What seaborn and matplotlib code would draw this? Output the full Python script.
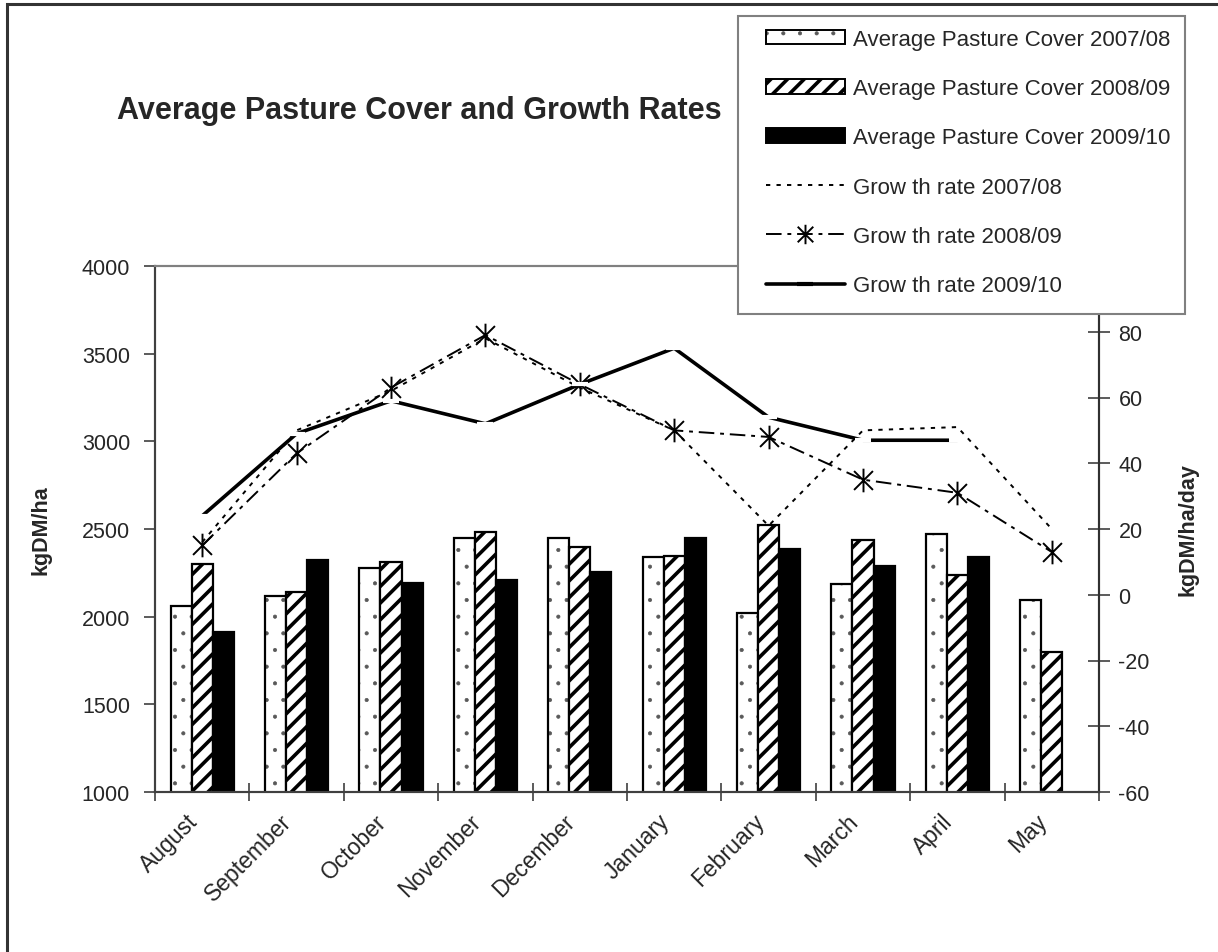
import numpy as np
import pandas as pd
import matplotlib
matplotlib.use("Agg")
import matplotlib.pyplot as plt
from matplotlib.patches import Patch, Rectangle
from matplotlib.lines import Line2D
from matplotlib.path import Path
import seaborn as sns

# ---- data -------------------------------------------------------------
months = ["August", "September", "October", "November", "December",
          "January", "February", "March", "April", "May"]

cover_0708 = [2060, 2120, 2280, 2450, 2450, 2340, 2020, 2185, 2470, 2095]
cover_0809 = [2300, 2140, 2310, 2485, 2395, 2345, 2525, 2440, 2240, 1800]
cover_0910 = [1915, 2325, 2190, 2210, 2255, 2450, 2385, 2290, 2340, np.nan]

growth_0708 = [16, 50, 62, 78, 63, 50, 21, 50, 51, 20]
growth_0809 = [15, 43, 63, 79, 64, 50, 48, 35, 31, 13]
growth_0910 = [24, 49, 59, 52, 64, 75, 54, 47, 47, np.nan]

cover_labels = ["Average Pasture Cover 2007/08",
                "Average Pasture Cover 2008/09",
                "Average Pasture Cover 2009/10"]
growth_labels = ["Grow th rate 2007/08",
                 "Grow th rate 2008/09",
                 "Grow th rate 2009/10"]

left_ticks = [1000, 1500, 2000, 2500, 3000, 3500, 4000]
right_ticks = [-60, -40, -20, 0, 20, 40, 60, 80]

# ---- style ------------------------------------------------------------
sns.set_style("ticks")
plt.rcParams["font.family"] = ["Liberation Sans", "DejaVu Sans"]
plt.rcParams["axes.unicode_minus"] = False
plt.rcParams["hatch.linewidth"] = 2.6

W, H = 1218, 953
fig = plt.figure(figsize=(W / 100, H / 100), dpi=100)
ax = fig.add_axes([155 / W, 1 - 793 / H, (1099 - 155) / W, (793 - 267) / H])

DOT_GRAY = (0.35, 0.35, 0.35, 1.0)


def fine_dots(patch):
    """Small grey dots for the stippled pattern."""
    patch._hatch_color = DOT_GRAY
    if hasattr(patch, "_hatch_linewidth"):
        patch._hatch_linewidth = 0.5
    orig_draw = patch.draw

    def draw(renderer, _orig=orig_draw):
        with plt.rc_context({"hatch.linewidth": 0.5}):
            _orig(renderer)
    patch.draw = draw


# bars
cover_df = pd.DataFrame({
    "month": months * 3,
    "series": sum([[lab] * len(months) for lab in cover_labels], []),
    "value": cover_0708 + cover_0809 + cover_0910,
}).dropna()

bar_faces = {cover_labels[0]: "white", cover_labels[1]: "white", cover_labels[2]: "black"}
bar_hatches = {cover_labels[0]: ".", cover_labels[1]: "//", cover_labels[2]: None}

sns.barplot(data=cover_df, x="month", y="value", hue="series",
            order=months, hue_order=cover_labels, palette=bar_faces,
            width=0.67, gap=0, errorbar=None, saturation=1,
            edgecolor="black", linewidth=1.6, legend=False, ax=ax)

for label, cont in zip(cover_labels, ax.containers):
    for bar in cont:
        bar.set_edgecolor("black")
        bar.set_linewidth(1.6)
        h = bar_hatches[label]
        if h:
            bar.set_hatch(h)
            if h == ".":
                fine_dots(bar)

ax.set_ylim(1000, 4000)
ax.set_yticks(left_ticks)
ax.set_xlim(-0.5, len(months) - 0.5)
ax.set_xlabel("")
ax.set_ylabel("kgDM/ha", fontsize=15.5, fontweight="bold", labelpad=22)

# growth rate lines on secondary axis
ax2 = ax.twinx()
xpos = np.arange(len(months))

# asterisk marker: X with a vertical bar
ast = Path([(-1, -1), (1, 1), (-1, 1), (1, -1), (0, -1.25), (0, 1.25)],
           [Path.MOVETO, Path.LINETO, Path.MOVETO, Path.LINETO, Path.MOVETO, Path.LINETO])

g0708 = pd.DataFrame({"x": xpos, "y": growth_0708}).dropna()
g0809 = pd.DataFrame({"x": xpos, "y": growth_0809}).dropna()
g0910 = pd.DataFrame({"x": xpos, "y": growth_0910}).dropna()

sns.lineplot(data=g0708, x="x", y="y", color="black", linewidth=1.4,
             linestyle=(0, (2.2, 3.2)), errorbar=None, ax=ax2)
sns.lineplot(data=g0809, x="x", y="y", color="black", linewidth=1.4,
             linestyle=(0, (8, 3, 2, 3)), marker=ast, markersize=17,
             markeredgewidth=1.4, markerfacecolor="none", markeredgecolor="black",
             errorbar=None, ax=ax2)
sns.lineplot(data=g0910, x="x", y="y", color="black", linewidth=2.6,
             marker="_", markersize=11, markeredgewidth=3, errorbar=None, ax=ax2)

ax2.set_ylim(-60, 100)
ax2.set_yticks(right_ticks)
ax2.set_xlim(-0.5, len(months) - 0.5)
ax2.set_xlabel("")
ax2.set_ylabel("kgDM/ha/day", fontsize=15.5, fontweight="bold", labelpad=20)

# ticks
ax.set_xticks(xpos)
ax.set_xticklabels(months, rotation=45, ha="right", va="bottom",
                   rotation_mode="anchor", fontsize=16.5)
ax.tick_params(axis="x", which="major", length=0, pad=24)
ax.set_xticks(np.arange(-0.5, len(months)), minor=True)
ax.tick_params(axis="x", which="minor", length=13, width=1.2, direction="inout",
               color="#404040")
ax.tick_params(axis="y", length=8, width=1.2, direction="out", color="#404040",
               labelsize=15.5, pad=10)
ax2.tick_params(axis="y", length=16, width=1.2, direction="inout", color="#404040",
                labelsize=15.5, pad=6)

for a in (ax, ax2):
    a.spines["left"].set_color("#404040")
    a.spines["bottom"].set_color("#404040")
    a.spines["right"].set_color("#303030")
    a.spines["top"].set_color("#808080")
    for s in a.spines.values():
        s.set_linewidth(1.5)

# title
fig.text(117 / W, 1 - 111 / H, "Average Pasture Cover and Growth Rates",
         fontsize=22, fontweight="bold", ha="left", va="center")

# legend box
fig.add_artist(Rectangle((738 / W, 1 - 315 / H), (1185 - 738) / W, (315 - 17) / H,
                         transform=fig.transFigure, facecolor="white",
                         edgecolor="#808080", linewidth=1.5, zorder=4))

handles = [
    Patch(facecolor="white", edgecolor="black", hatch=".", linewidth=1.4),
    Patch(facecolor="white", edgecolor="black", hatch="//", linewidth=1.4),
    Patch(facecolor="black", edgecolor="black", linewidth=1.4),
    Line2D([], [], color="black", linewidth=1.4, linestyle=(0, (2.2, 3.2))),
    Line2D([], [], color="black", linewidth=1.4, linestyle=(0, (8, 3, 2, 3)),
           marker=ast, markersize=14, markeredgewidth=1.4, markerfacecolor="none"),
    Line2D([], [], color="black", linewidth=2.6, marker="_", markersize=11,
           markeredgewidth=3),
]
leg = fig.legend(handles, cover_labels + growth_labels,
                 loc="upper left", bbox_to_anchor=(766 / W, 1 - 30 / H),
                 borderaxespad=0, borderpad=0, fontsize=16,
                 handlelength=3.55, handleheight=0.62, handletextpad=0.35,
                 labelspacing=1.27, frameon=False)
leg.set_zorder(5)
fine_dots(leg.get_patches()[0])

# outer frame (left and top edges)
fig.add_artist(Rectangle((7 / W, -0.05), 1.2, 1 - 5 / H + 0.05,
                         transform=fig.transFigure, fill=False,
                         edgecolor="#333333", linewidth=2.2, clip_on=False))

fig.savefig("out.png", dpi=100)
